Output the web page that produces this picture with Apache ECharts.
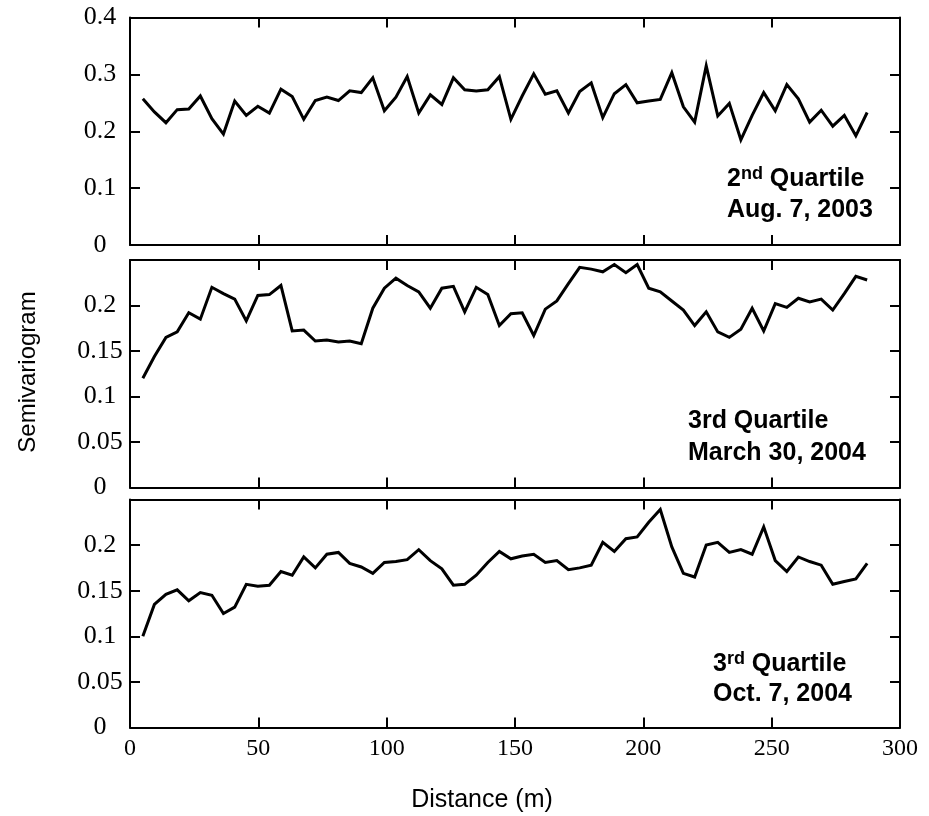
<!DOCTYPE html>
<html>
<head>
<meta charset="utf-8">
<title>Semivariogram</title>
<script src="https://cdn.jsdelivr.net/npm/echarts@6/dist/echarts.min.js"></script>
<style>
  html, body { margin: 0; padding: 0; background: #fff; }
  #chart { width: 929px; height: 816px; }
</style>
</head>
<body>
<div id="chart"></div>
<script>
// Lag distances (m) shared by all three semivariograms
const distance = [
  5.0, 9.5, 14.0, 18.4, 22.9, 27.4, 31.9, 36.4, 40.8, 45.3,
  49.8, 54.3, 58.8, 63.2, 67.7, 72.2, 76.7, 81.2, 85.6, 90.1,
  94.6, 99.1, 103.6, 108.0, 112.5, 117.0, 121.5, 126.0, 130.4, 134.9,
  139.4, 143.9, 148.4, 152.8, 157.3, 161.8, 166.3, 170.8, 175.2, 179.7,
  184.2, 188.7, 193.2, 197.6, 202.1, 206.6, 211.1, 215.6, 220.0, 224.5,
  229.0, 233.5, 238.0, 242.4, 246.9, 251.4, 255.9, 260.4, 264.8, 269.3,
  273.8, 278.3, 282.8, 287.2
];

// 2nd quartile, Aug. 7, 2003
const aug2003 = [
  0.257, 0.234, 0.215, 0.238, 0.239, 0.262, 0.222, 0.195, 0.253, 0.228,
  0.244, 0.232, 0.274, 0.261, 0.221, 0.254, 0.260, 0.254, 0.271, 0.268,
  0.294, 0.236, 0.260, 0.296, 0.232, 0.264, 0.247, 0.294, 0.273, 0.271,
  0.273, 0.296, 0.221, 0.262, 0.301, 0.265, 0.271, 0.232, 0.270, 0.285,
  0.224, 0.266, 0.282, 0.250, 0.253, 0.256, 0.303, 0.243, 0.216, 0.315,
  0.227, 0.249, 0.185, 0.228, 0.268, 0.236, 0.282, 0.257, 0.216, 0.237,
  0.209, 0.228, 0.192, 0.233
];

// 3rd quartile, March 30, 2004
const mar2004 = [
  0.120, 0.144, 0.165, 0.171, 0.192, 0.185, 0.220, 0.213, 0.207, 0.183,
  0.211, 0.212, 0.222, 0.172, 0.173, 0.161, 0.162, 0.160, 0.161, 0.158,
  0.197, 0.219, 0.230, 0.222, 0.215, 0.197, 0.219, 0.221, 0.193, 0.220,
  0.212, 0.178, 0.191, 0.192, 0.167, 0.196, 0.205, 0.224, 0.242, 0.240,
  0.237, 0.245, 0.236, 0.245, 0.219, 0.215, 0.205, 0.195, 0.178, 0.193,
  0.171, 0.165, 0.174, 0.197, 0.172, 0.202, 0.198, 0.208, 0.204, 0.207,
  0.195, 0.213, 0.232, 0.228
];

// 3rd quartile, Oct. 7, 2004
const oct2004 = [
  0.100, 0.135, 0.146, 0.151, 0.139, 0.148, 0.145, 0.125, 0.132, 0.157,
  0.155, 0.156, 0.171, 0.167, 0.187, 0.175, 0.190, 0.192, 0.180, 0.176,
  0.169, 0.181, 0.182, 0.184, 0.195, 0.183, 0.174, 0.156, 0.157, 0.167,
  0.181, 0.193, 0.185, 0.188, 0.190, 0.181, 0.183, 0.173, 0.175, 0.178,
  0.203, 0.193, 0.207, 0.209, 0.225, 0.239, 0.198, 0.169, 0.165, 0.200,
  0.203, 0.192, 0.195, 0.190, 0.220, 0.183, 0.171, 0.187, 0.182, 0.178,
  0.157, 0.160, 0.163, 0.180
];

// Axis ranges
const xRange = { min: 0, max: 300, interval: 50 };
const yRanges = [
  { min: 0, max: 0.4, interval: 0.1 },
  { min: 0, max: 0.25, interval: 0.05 },
  { min: 0, max: 0.25, interval: 0.05 }
];

const panels = [aug2003, mar2004, oct2004];

// Panel boxes in pixels
const grids = [
  { left: 130, right: 29, top: 17.5, height: 227.5 },
  { left: 130, right: 29, top: 260, height: 227.5 },
  { left: 130, right: 29, top: 499.5, height: 228 }
];

const SERIF = "'Liberation Serif', 'Times New Roman', serif";
const SANS = "'Liberation Sans', Arial, Helvetica, sans-serif";

const frameLine = { show: true, onZero: false, lineStyle: { color: '#000', width: 2 } };
const innerTick = { show: true, inside: true, length: 10, lineStyle: { color: '#000', width: 2 } };

// The top value of the 0.25-high panels is left unlabelled
function fmtY(v, max) {
  if (Math.abs(v - max) < 1e-9 && max === 0.25) return '';
  return String(+v.toFixed(2));
}

const xAxis = [];
const yAxis = [];
const series = [];

panels.forEach((vals, g) => {
  const last = g === panels.length - 1;
  // bottom x axis
  xAxis.push({
    type: 'value', gridIndex: g, position: 'bottom',
    min: xRange.min, max: xRange.max, interval: xRange.interval,
    axisLine: frameLine, axisTick: innerTick, splitLine: { show: false },
    axisLabel: {
      show: last, color: '#000', fontFamily: SERIF, fontSize: 24, margin: 9,
      showMinLabel: true, showMaxLabel: true
    }
  });
  // top x axis (ticks only)
  xAxis.push({
    type: 'value', gridIndex: g, position: 'top',
    min: xRange.min, max: xRange.max, interval: xRange.interval,
    axisLine: frameLine, axisTick: innerTick, splitLine: { show: false },
    axisLabel: { show: false }
  });
  const yr = yRanges[g];
  // left y axis
  yAxis.push({
    type: 'value', gridIndex: g, position: 'left',
    min: yr.min, max: yr.max, interval: yr.interval,
    axisLine: frameLine, axisTick: innerTick, splitLine: { show: false },
    axisLabel: {
      color: '#000', fontFamily: SERIF, fontSize: 26, margin: 30, align: 'center',
      formatter: v => fmtY(v, yr.max)
    }
  });
  // right y axis (ticks only)
  yAxis.push({
    type: 'value', gridIndex: g, position: 'right',
    min: yr.min, max: yr.max, interval: yr.interval,
    axisLine: frameLine, axisTick: innerTick, splitLine: { show: false },
    axisLabel: { show: false }
  });
  series.push({
    type: 'line',
    xAxisIndex: g * 2,
    yAxisIndex: g * 2,
    data: distance.map((d, i) => [d, vals[i]]),
    showSymbol: false,
    symbol: 'none',
    lineStyle: { color: '#000', width: 3, join: 'miter', cap: 'butt' },
    clip: true,
    silent: true
  });
});

const labelFont = 'bold 25px ' + SANS;
const rich = {
  b: { fontFamily: SANS, fontWeight: 'bold', fontSize: 25, color: '#000', lineHeight: 27 },
  s: { fontFamily: SANS, fontWeight: 'bold', fontSize: 18, color: '#000', lineHeight: 27, verticalAlign: 'top' }
};

function note(x, y, text, useRich) {
  return {
    type: 'text', x: x, y: y, silent: true,
    style: useRich
      ? { text: text, rich: rich, align: 'left', verticalAlign: 'middle', fill: '#000' }
      : { text: text, font: labelFont, align: 'left', verticalAlign: 'middle', fill: '#000' }
  };
}

const graphic = [
  note(727, 179, '{b|2}{s|nd}{b| Quartile}', true),
  note(727, 210, 'Aug. 7, 2003', false),
  note(688, 421, '3rd Quartile', false),
  note(688, 453, 'March 30, 2004', false),
  note(713, 664, '{b|3}{s|rd}{b| Quartile}', true),
  note(713, 694, 'Oct. 7, 2004', false),
  {
    type: 'text', x: 482, y: 800, silent: true,
    style: { text: 'Distance (m)', font: '25px ' + SANS, fill: '#000', align: 'center', verticalAlign: 'middle' }
  },
  {
    type: 'text', x: 28, y: 372, rotation: Math.PI / 2, silent: true,
    style: { text: 'Semivariogram', font: '24px ' + SANS, fill: '#000', align: 'center', verticalAlign: 'middle' }
  }
];

const chart = echarts.init(document.getElementById('chart'), null, { renderer: 'canvas' });
chart.setOption({
  animation: false,
  backgroundColor: '#fff',
  grid: grids,
  xAxis: xAxis,
  yAxis: yAxis,
  series: series,
  graphic: graphic
});
</script>
</body>
</html>
